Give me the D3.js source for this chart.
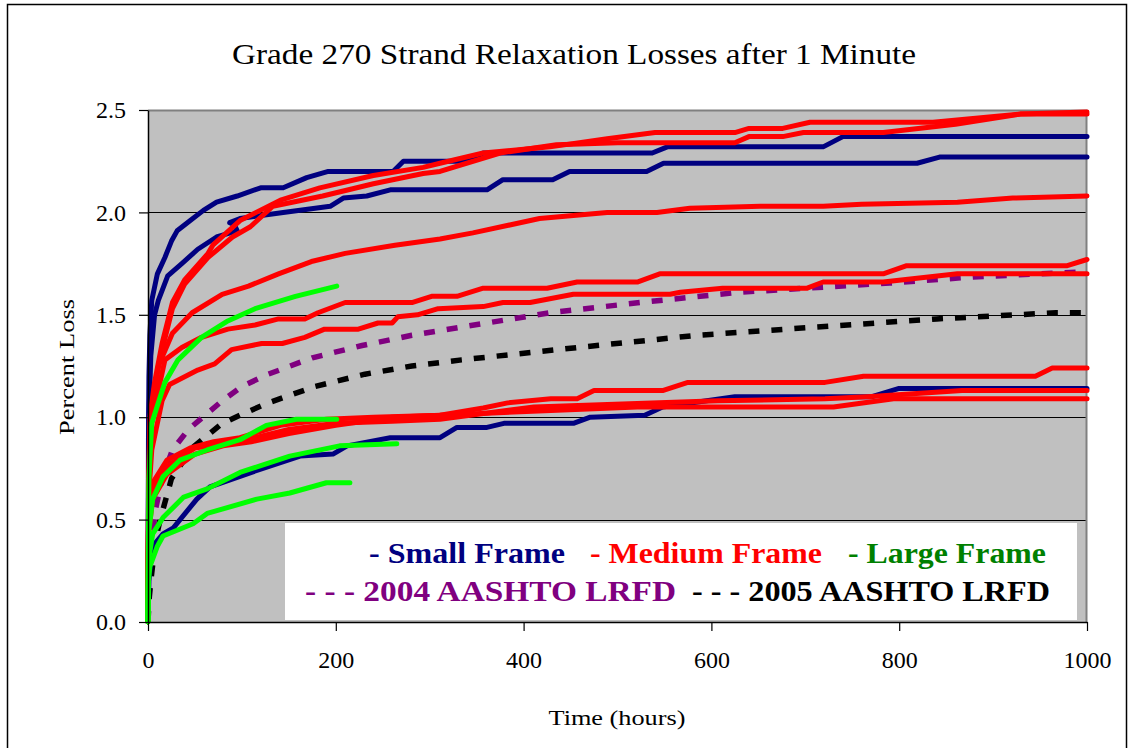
<!DOCTYPE html>
<html>
<head>
<meta charset="utf-8">
<script src="https://cdn.jsdelivr.net/npm/d3@7"></script>
<style>
    body { margin: 0; background: #fff; }
    svg, svg text { font-family: "Liberation Serif", "Times New Roman", Tinos, Times, serif; }
</style>
</head>
<body>
<svg id="chart" width="1129" height="748"></svg>
<script>
    // data: [hours, percent loss]

    const smallFrame1 = [[0,0],[0.5,0.9],[1,1.2],[2,1.4],[4,1.57],[10,1.7],[18,1.78],[25,1.86],[31,1.91],[45,1.96],[59,2.01],[73,2.05],[95,2.08],[120,2.12],[144,2.12],[169,2.17],[192,2.2],[261,2.2],[272,2.25],[340,2.25],[357,2.29],[537,2.29],[553,2.32],[719,2.32],[740,2.37],[1000,2.37]];
    const smallFrame2 = [[0,0],[0.5,0.7],[1,1.0],[3,1.3],[7,1.5],[11,1.57],[21,1.69],[36,1.75],[53,1.82],[73,1.88],[95,1.91],[92,1.94],[87,1.95],[98,1.97],[144,2.0],[194,2.03],[208,2.07],[233,2.08],[258,2.11],[361,2.11],[378,2.16],[431,2.16],[449,2.2],[531,2.2],[549,2.24],[819,2.24],[843,2.27],[1000,2.27]];
    const smallFrame3 = [[0,0],[1,0.2],[3,0.3],[5,0.37],[16,0.43],[27,0.46],[52,0.6],[66,0.66],[116,0.74],[162,0.81],[197,0.82],[212,0.86],[258,0.9],[311,0.9],[329,0.95],[361,0.95],[379,0.97],[453,0.97],[471,1.0],[529,1.01],[548,1.05],[625,1.1],[771,1.1],[799,1.14],[1000,1.14]];

    const mediumFrame1 = [[0,0],[0.5,0.6],[2,1.0],[7,1.17],[15,1.36],[26,1.56],[39,1.67],[64,1.8],[69,1.84],[98,1.96],[141,2.06],[183,2.12],[240,2.18],[293,2.22],[311,2.24],[357,2.29],[428,2.32],[489,2.36],[540,2.39],[625,2.39],[640,2.41],[676,2.41],[705,2.44],[836,2.44],[929,2.48],[1000,2.49]];
    const mediumFrame2 = [[0,0],[0.5,0.55],[2,0.95],[7,1.15],[15,1.33],[26,1.53],[39,1.65],[64,1.78],[90,1.88],[109,1.93],[133,2.03],[186,2.08],[240,2.14],[293,2.19],[311,2.2],[375,2.29],[435,2.33],[500,2.34],[625,2.34],[640,2.37],[676,2.37],[698,2.39],[783,2.39],[860,2.43],[929,2.48],[1000,2.48]];
    const mediumFrame3 = [[0,0],[0.5,0.5],[2,0.85],[4,1.03],[11,1.25],[26,1.41],[47,1.51],[79,1.6],[107,1.64],[139,1.7],[174,1.76],[210,1.8],[263,1.84],[311,1.87],[346,1.9],[417,1.97],[489,2.0],[542,2.0],[577,2.02],[652,2.03],[719,2.03],[760,2.04],[862,2.05],[921,2.07],[1000,2.08]];
    const mediumFrame4 = [[0,0],[0.5,0.5],[2,0.8],[4,0.97],[11,1.13],[18,1.28],[36,1.34],[57,1.39],[85,1.43],[114,1.45],[139,1.48],[167,1.48],[181,1.51],[210,1.56],[281,1.56],[302,1.59],[329,1.59],[357,1.63],[425,1.63],[457,1.66],[521,1.66],[545,1.7],[783,1.7],[808,1.74],[979,1.74],[1000,1.77]];
    const mediumFrame5 = [[0,0],[0.5,0.45],[2,0.7],[4,0.84],[15,1.08],[23,1.16],[53,1.23],[71,1.26],[89,1.33],[121,1.36],[143,1.36],[167,1.39],[188,1.43],[224,1.43],[245,1.46],[260,1.46],[266,1.49],[287,1.5],[309,1.53],[357,1.54],[378,1.56],[407,1.56],[453,1.6],[556,1.6],[567,1.61],[612,1.63],[702,1.63],[719,1.66],[783,1.66],[862,1.7],[1000,1.7]];
    const mediumFrame6 = [[0,0],[0.5,0.45],[1,0.55],[5,0.68],[20,0.79],[45,0.85],[70,0.88],[98,0.9],[141,0.96],[190,0.99],[240,1.0],[311,1.01],[357,1.045],[383,1.07],[429,1.09],[457,1.09],[475,1.13],[548,1.13],[575,1.17],[721,1.17],[762,1.2],[945,1.2],[963,1.24],[1000,1.24]];
    const mediumFrame7 = [[0,0],[0.5,0.4],[1,0.5],[5,0.65],[20,0.76],[50,0.85],[80,0.87],[114,0.9],[150,0.94],[200,0.97],[260,0.98],[311,0.99],[411,1.05],[607,1.08],[721,1.09],[766,1.1],[867,1.13],[1000,1.13]];
    const mediumFrame8 = [[0,0],[0.5,0.35],[1,0.45],[5,0.6],[20,0.72],[50,0.82],[80,0.86],[110,0.88],[150,0.92],[200,0.96],[260,1.0],[311,1.01],[521,1.05],[730,1.05],[794,1.09],[1000,1.09]];

    const largeFrame1 = [[0,0],[0.5,0.45],[1,0.7],[2,0.8],[4,0.97],[18,1.17],[32,1.28],[57,1.39],[85,1.47],[114,1.53],[157,1.59],[201,1.64]];
    const largeFrame2 = [[0,0],[0.5,0.43],[5,0.6],[16,0.71],[34,0.79],[63,0.84],[98,0.89],[126,0.96],[158,0.99],[201,0.99]];
    const largeFrame3 = [[0,0],[0.5,0.3],[5,0.43],[16,0.51],[38,0.61],[63,0.65],[98,0.73],[151,0.81],[204,0.86],[265,0.87]];
    const largeFrame4 = [[0,0],[0.5,0.2],[2,0.27],[10,0.37],[16,0.42],[48,0.48],[63,0.53],[116,0.6],[151,0.63],[190,0.68],[215,0.68]];

    const aashto2004 = [[0,0],[1,0.15],[3,0.35],[8,0.55],[15,0.7],[26,0.84],[43,0.94],[79,1.08],[100,1.15],[128,1.21],[175,1.29],[228,1.35],[281,1.4],[334,1.44],[428,1.51],[524,1.56],[630,1.61],[790,1.655],[879,1.685],[1000,1.71]];
    const aashto2005 = [[0,0],[1,0.1],[3,0.2],[8,0.4],[13,0.5],[25,0.7],[47,0.85],[79,0.97],[103,1.02],[128,1.07],[178,1.15],[231,1.21],[281,1.25],[334,1.28],[457,1.34],[585,1.4],[712,1.44],[840,1.48],[967,1.51],[1000,1.51]];

    const xTicks = [0, 200, 400, 600, 800, 1000];
    const yTicks = [0, 0.5, 1.0, 1.5, 2.0, 2.5];

    const legendRow1 = ["- Small Frame", "- Medium Frame", "- Large Frame"];
    const legendRow2 = ["- - - 2004 AASHTO LRFD", "- - - 2005 AASHTO LRFD"];

    const NAVY = "#000080", RED = "#ff0000", LIME = "#00ff00",
          GREEN = "#008000", PURPLE = "#800080", BLACK = "#000000";

    // layers drawn back to front
    const series = [
        {data: aashto2004, color: PURPLE, dash: "11,12"},
        {data: aashto2005, color: BLACK, dash: "11,12"},
        {data: smallFrame1, color: NAVY},
        {data: smallFrame2, color: NAVY},
        {data: smallFrame3, color: NAVY},
        {data: mediumFrame1, color: RED},
        {data: mediumFrame2, color: RED},
        {data: mediumFrame3, color: RED},
        {data: mediumFrame4, color: RED},
        {data: mediumFrame5, color: RED},
        {data: mediumFrame6, color: RED},
        {data: mediumFrame7, color: RED},
        {data: mediumFrame8, color: RED},
        {data: largeFrame1, color: LIME},
        {data: largeFrame2, color: LIME},
        {data: largeFrame3, color: LIME},
        {data: largeFrame4, color: LIME},
    ];

    const FONT = "'Liberation Serif', 'Times New Roman', Tinos, Times, serif";
    const plot = {left: 148, right: 1087, top: 110, bottom: 622};

    const x = d3.scaleLinear().domain([0, 1000]).range([plot.left, plot.right]);
    const y = d3.scaleLinear().domain([0, 2.5]).range([plot.bottom, plot.top]);

    const svg = d3.select("#chart")
        .attr("font-family", FONT);

    // outer frame
    svg.append("rect")
        .attr("x", 7.5).attr("y", 4.5)
        .attr("width", 1119).attr("height", 780)
        .attr("fill", "#fff")
        .attr("stroke", "#000")
        .attr("stroke-width", 1.5);

    svg.append("text")
        .attr("x", 574).attr("y", 64)
        .attr("text-anchor", "middle")
        .attr("font-size", 30)
        .attr("textLength", 684)
        .attr("lengthAdjust", "spacingAndGlyphs")
        .text("Grade 270 Strand Relaxation Losses after 1 Minute");

    // plot area
    svg.append("rect")
        .attr("x", plot.left).attr("y", plot.top)
        .attr("width", plot.right - plot.left)
        .attr("height", plot.bottom - plot.top)
        .attr("fill", "#c0c0c0");

    svg.append("g")
        .selectAll("line")
        .data(yTicks.filter(d => d > 0 && d < 2.5))
        .join("line")
        .attr("x1", plot.left).attr("x2", plot.right)
        .attr("y1", d => Math.round(y(d)) + 0.5)
        .attr("y2", d => Math.round(y(d)) + 0.5)
        .attr("stroke", "#000")
        .attr("stroke-width", 1);

    // top and right frame of the plot, grey
    svg.append("path")
        .attr("d", `M${plot.left},${plot.top + 0.5}H${plot.right - 0.5}V${plot.bottom}`)
        .attr("fill", "none")
        .attr("stroke", "#808080")
        .attr("stroke-width", 2);

    // legend box sits under the lines
    svg.append("rect")
        .attr("x", 285).attr("y", 523)
        .attr("width", 792).attr("height", 97)
        .attr("fill", "#fff");

    const line = d3.line()
        .x(d => x(d[0]))
        .y(d => y(d[1]));

    svg.append("g")
        .attr("fill", "none")
        .attr("stroke-linejoin", "round")
        .selectAll("path")
        .data(series)
        .join("path")
        .attr("d", d => line(d.data))
        .attr("stroke", d => d.color)
        .attr("stroke-width", d => d.dash ? 5.5 : 5)
        .attr("stroke-dasharray", d => d.dash || null)
        .attr("stroke-linecap", d => d.dash ? "butt" : "round");

    // axes
    const xAxis = svg.append("g")
        .attr("transform", `translate(0,${plot.bottom})`)
        .call(d3.axisBottom(x).tickValues(xTicks).tickFormat(d3.format("d"))
            .tickSize(9).tickPadding(20).tickSizeOuter(0));

    const yAxis = svg.append("g")
        .attr("transform", `translate(${plot.left},0)`)
        .call(d3.axisLeft(y).tickValues(yTicks).tickFormat(d3.format(".1f"))
            .tickSize(9).tickPadding(13).tickSizeOuter(0));

    [xAxis, yAxis].forEach(g => {
        g.attr("font-family", FONT).attr("font-size", 24);
        g.select(".domain").attr("stroke", "#000").attr("stroke-width", 1.5);
        g.selectAll(".tick line").attr("stroke", "#000").attr("stroke-width", 1.2);
        g.selectAll(".tick text").attr("fill", "#000");
    });

    svg.append("text")
        .attr("x", 617).attr("y", 725)
        .attr("text-anchor", "middle")
        .attr("font-size", 22)
        .attr("textLength", 137)
        .attr("lengthAdjust", "spacingAndGlyphs")
        .text("Time (hours)");

    svg.append("text")
        .attr("transform", "translate(74,367) rotate(-90)")
        .attr("text-anchor", "middle")
        .attr("font-size", 22)
        .attr("textLength", 136)
        .attr("lengthAdjust", "spacingAndGlyphs")
        .text("Percent Loss");

    // legend text
    const legendItems = [
        {label: legendRow1[0], color: NAVY, x0: 369, x1: 565, y: 563},
        {label: legendRow1[1], color: RED, x0: 590, x1: 822, y: 563},
        {label: legendRow1[2], color: GREEN, x0: 848, x1: 1046, y: 563},
        {label: legendRow2[0], color: PURPLE, x0: 305, x1: 676, y: 601},
        {label: legendRow2[1], color: BLACK, x0: 692, x1: 1050, y: 601},
    ];

    svg.append("g")
        .attr("font-weight", "bold")
        .attr("font-size", 29)
        .selectAll("text")
        .data(legendItems)
        .join("text")
        .attr("x", d => d.x0)
        .attr("y", d => d.y)
        .attr("fill", d => d.color)
        .attr("textLength", d => d.x1 - d.x0)
        .attr("lengthAdjust", "spacingAndGlyphs")
        .text(d => d.label);
</script>
</body>
</html>
